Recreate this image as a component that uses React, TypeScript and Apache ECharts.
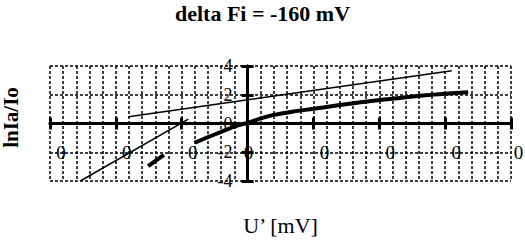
import React, { useEffect, useRef } from "react";
import * as echarts from "echarts";

const titleText = "delta Fi = -160 mV";
const xName = "U\u2019 [mV]";
const yName = "lnIa/Io";

const xMin = -300;
const xMax = 400;
const xStep = 100;
const yMin = -4;
const yMax = 4;
const yStep = 2;

const xTickValues = [-300, -200, -100, 0, 100, 200, 300, 400];
const xTickLabels = ["0", "0", "0", "0", "0", "0", "0", "0"];

// thin straight line (upper)
const lineAx = [-181, 310];
const lineAy = [0.47, 3.67];
// thin straight line (lower)
const lineBx = [-254, -90];
const lineBy = [-4.0, 0.31];
// short thick segment
const segCx = [-151, -127];
const segCy = [-2.96, -2.19];
// thick curve
const curveDx = [-80, -60, -40, -20, 0, 20, 40, 70, 100, 130, 166, 200, 231, 270, 300, 335];
const curveDy = [-1.33, -0.95, -0.58, -0.22, 0.05, 0.36, 0.6, 0.84, 1.02, 1.22, 1.45, 1.63, 1.78, 1.96, 2.07, 2.18];

const zip = (xs: number[], ys: number[]) => xs.map((x, i) => [x, ys[i]]);

const FONT = '"Liberation Serif", "Times New Roman", serif';
const dash = { color: "#000", width: 1.5, type: [3, 2] as number[] };

const GRID_LEFT = 50;
const GRID_RIGHT = 14;
const GRID_TOP = 66;
const GRID_BOTTOM = 60;
const W = 525;
const H = 241;

export default function App() {
  const ref = useRef<HTMLDivElement>(null);
  useEffect(() => {
    if (!ref.current) return;
    const chart = echarts.init(ref.current, undefined, { renderer: "svg" });
    const axisLineStyle = { color: "#000", width: 3 };
    const gridW = W - GRID_LEFT - GRID_RIGHT;
    const gridH = H - GRID_TOP - GRID_BOTTOM;
    // distance of the zero lines from the grid's left / bottom edges
    const zeroFromLeft = ((0 - xMin) / (xMax - xMin)) * gridW;
    const zeroFromBottom = ((0 - yMin) / (yMax - yMin)) * gridH;
    const lblStyle = { fontFamily: FONT, fontSize: 19, color: "#000" };
    chart.setOption({
      animation: false,
      backgroundColor: "#fff",
      title: {
        text: titleText,
        left: "center",
        top: -3,
        textStyle: { fontFamily: FONT, fontSize: 22, fontWeight: "bold", color: "#000" },
      },
      grid: { left: GRID_LEFT, right: GRID_RIGHT, top: GRID_TOP, bottom: GRID_BOTTOM, containLabel: false, outerBoundsMode: "none" },
      xAxis: [
        {
          type: "value",
          min: xMin,
          max: xMax,
          interval: xStep,
          position: "bottom",
          offset: -zeroFromBottom,
          name: xName,
          nameLocation: "middle",
          nameGap: 91,
          nameTextStyle: { fontFamily: FONT, fontSize: 22, color: "#000" },
          axisLine: { show: true, onZero: false, lineStyle: axisLineStyle },
          axisTick: { show: true, length: 6, lineStyle: { color: "#000", width: 3 } },
          minorTick: { show: false, splitNumber: 5 },
          splitLine: { show: true, lineStyle: dash },
          minorSplitLine: { show: true, lineStyle: dash },
          axisLabel: {
            show: true,
            margin: 19,
            hideOverlap: false,
            formatter: (v: number) => {
              const i = xTickValues.indexOf(v);
              const t = i >= 0 ? xTickLabels[i] : "";
              if (v === 0) return `{b|${t}}`;
              if (v === xMax) return `{c|${t}}`;
              return `{a|${t}}`;
            },
            rich: {
              a: { ...lblStyle, padding: [0, 0, 0, 22] },
              b: { ...lblStyle, padding: [0, 0, 0, 2] },
              c: { ...lblStyle, padding: [0, 0, 0, 15] },
            },
          },
        },
        {
          type: "value",
          min: xMin,
          max: xMax,
          interval: xStep,
          position: "bottom",
          offset: -zeroFromBottom,
          axisLine: { show: true, onZero: false, lineStyle: axisLineStyle },
          axisTick: { show: true, inside: true, length: 6, lineStyle: { color: "#000", width: 3 } },
          axisLabel: { show: false },
          splitLine: { show: false },
        },
      ],
      yAxis: [
        {
          type: "value",
          min: yMin,
          max: yMax,
          interval: yStep,
          position: "left",
          offset: -zeroFromLeft,
          name: yName,
          nameLocation: "middle",
          nameGap: 226,
          nameRotate: 90,
          nameTextStyle: { fontFamily: FONT, fontSize: 21, fontWeight: "bold", color: "#000", padding: [0, 0, 0, 12] },
          axisLine: { show: true, onZero: false, lineStyle: axisLineStyle },
          axisTick: { show: true, length: 6, lineStyle: { color: "#000", width: 3 } },
          splitLine: { show: true, lineStyle: dash },
          axisLabel: {
            show: true,
            margin: 15,
            fontFamily: FONT,
            fontSize: 18,
            color: "#000",
            padding: [6, 0, 0, 0],
          },
        },
        {
          type: "value",
          min: yMin,
          max: yMax,
          interval: yStep,
          position: "left",
          offset: -zeroFromLeft,
          axisLine: { show: true, onZero: false, lineStyle: axisLineStyle },
          axisTick: { show: true, inside: true, length: 6, lineStyle: { color: "#000", width: 3 } },
          axisLabel: { show: false },
          splitLine: { show: false },
        },
      ],
      series: [
        {
          type: "line",
          data: zip(lineAx, lineAy),
          showSymbol: false,
          lineStyle: { color: "#000", width: 1.5 },
          xAxisIndex: 0,
          yAxisIndex: 0,
        },
        {
          type: "line",
          data: zip(lineBx, lineBy),
          showSymbol: false,
          lineStyle: { color: "#000", width: 1.5 },
          xAxisIndex: 0,
          yAxisIndex: 0,
        },
        {
          type: "line",
          data: zip(segCx, segCy),
          showSymbol: false,
          lineStyle: { color: "#000", width: 4 },
          xAxisIndex: 0,
          yAxisIndex: 0,
        },
        {
          type: "line",
          data: zip(curveDx, curveDy),
          showSymbol: false,
          smooth: 0.3,
          lineStyle: { color: "#000", width: 4 },
          xAxisIndex: 0,
          yAxisIndex: 0,
        },
      ],
    });
    return () => chart.dispose();
  }, []);
  return (
    <div
      ref={ref}
      style={{ position: "absolute", left: 0, top: 0, width: W, height: H, background: "#fff" }}
    />
  );
}
